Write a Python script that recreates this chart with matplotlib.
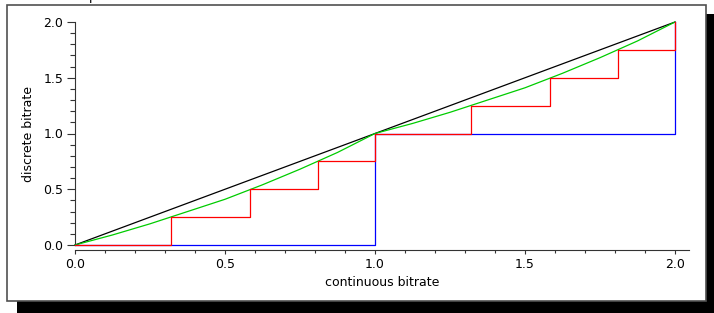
import matplotlib
matplotlib.use("Agg")
import matplotlib.pyplot as plt
from matplotlib.patches import Rectangle
from matplotlib.ticker import MultipleLocator

# ---- data ----
ideal_x = [0.0, 2.0]
ideal_y = [0.0, 2.0]

green_x = [0.0, 0.125, 0.25, 0.375, 0.5, 0.625, 0.75, 0.875, 1.0,
           1.125, 1.25, 1.375, 1.5, 1.625, 1.75, 1.875, 2.0]
green_y = [0.0, 0.09, 0.19, 0.30, 0.41, 0.54, 0.68, 0.83, 1.0,
           1.09, 1.19, 1.30, 1.41, 1.54, 1.68, 1.83, 2.0]

red_x = [0.0, 0.32, 0.585, 0.81, 1.0, 1.32, 1.585, 1.81, 2.0]
red_y = [0.0, 0.25, 0.5, 0.75, 1.0, 1.25, 1.5, 1.75, 2.0]

blue_x = [0.0, 1.0, 2.0]
blue_y = [0.0, 1.0, 2.0]

x_label = "continuous bitrate"
y_label = "discrete bitrate"

W, H = 714, 313
fig = plt.figure(figsize=(W / 100, H / 100), dpi=100)
fig.patch.set_facecolor("white")

def fx(px):
    return px / W

def fy(py):
    return 1 - py / H

# shadow and frame (behind axes)
fig.patches.append(Rectangle((fx(17), 0), fx(714) - fx(17), fy(14), transform=fig.transFigure,
                             facecolor="black", edgecolor="none", zorder=-3))
fig.patches.append(Rectangle((fx(7), fy(301)), fx(706) - fx(7), fy(5) - fy(301), transform=fig.transFigure,
                             facecolor="white", edgecolor="#505050", linewidth=1.2, zorder=-2))

# clipped title descender at top
fig.text(fx(93), fy(0.3), "p", fontsize=9, ha="center", va="baseline", color="black")

ax = fig.add_axes([fx(75), fy(245), fx(689) - fx(75), fy(22) - fy(245)])
ax.set_facecolor("none")
ax.set_zorder(1)
ax.set_xlim(0, (689 - 75) / 300)
ax.set_ylim(0, 2.0)

lw = 0.9
ax.plot(ideal_x, ideal_y, color="black", lw=lw, clip_on=False, zorder=3)
ax.plot(green_x, green_y, color="#00cc00", lw=lw, clip_on=False, zorder=4)
ax.step(blue_x, blue_y, where="post", color="#0000ff", lw=lw, clip_on=False, zorder=5)
ax.step(red_x, red_y, where="post", color="#ff0000", lw=lw, clip_on=False, zorder=6)

for s in ["top", "right"]:
    ax.spines[s].set_visible(False)
ax.spines["bottom"].set_position(("outward", 3.6))
ax.spines["left"].set_bounds(0, 2.0)
for s in ["left", "bottom"]:
    ax.spines[s].set_linewidth(0.8)
    ax.spines[s].set_color("#333333")

ax.xaxis.set_major_locator(MultipleLocator(0.5))
ax.xaxis.set_minor_locator(MultipleLocator(0.1))
ax.yaxis.set_major_locator(MultipleLocator(0.5))
ax.yaxis.set_minor_locator(MultipleLocator(0.1))
ax.xaxis.set_major_formatter(plt.FormatStrFormatter("%.1f"))
ax.yaxis.set_major_formatter(plt.FormatStrFormatter("%.1f"))

ax.tick_params(axis="x", which="major", direction="out", length=3, width=0.8, pad=3, labelsize=9, color="#333333")
ax.tick_params(axis="x", which="minor", direction="out", length=2, width=0.8, color="#333333")
ax.tick_params(axis="y", which="major", direction="out", length=6, width=0.8, pad=2.5, labelsize=9, color="#333333")
ax.tick_params(axis="y", which="minor", direction="out", length=3.6, width=0.8, color="#333333")

ax.set_xlabel(x_label, fontsize=9, labelpad=3)
ax.set_ylabel(y_label, fontsize=9, labelpad=6)

fig.savefig("out.png", dpi=100, facecolor="white")
